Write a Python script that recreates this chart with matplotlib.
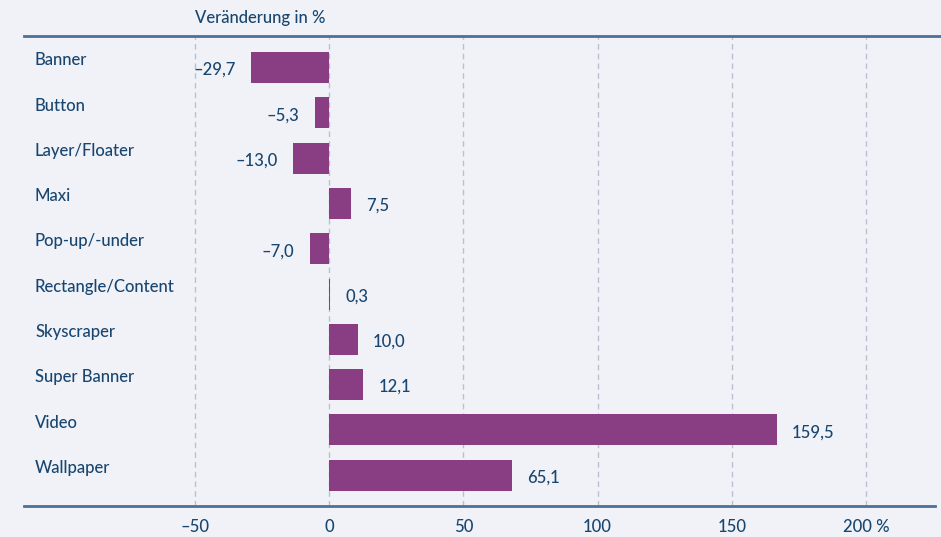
import matplotlib
matplotlib.use("Agg")
import matplotlib.pyplot as plt

categories = ["Banner", "Button", "Layer/Floater", "Maxi", "Pop-up/-under",
              "Rectangle/Content", "Skyscraper", "Super Banner", "Video", "Wallpaper"]
# bar lengths as drawn in the picture
bar_values = [-29.2, -5.3, -13.5, 8.1, -7.2, 0.4, 10.7, 12.6, 166.8, 68.1]
# printed labels
value_labels = ["–29,7", "–5,3", "–13,0", "7,5", "–7,0", "0,3", "10,0", "12,1", "159,5", "65,1"]
xticks = [-50, 0, 50, 100, 150, 200]
xtick_labels = ["–50", "0", "50", "100", "150", "200 %"]
title = "Veränderung in %"

BG = "#f1f2f7"
BAR = "#893d82"
TXT = "#184670"
LINE = "#4d7097"
GRID = "#b9c0d0"
FS = 12
FW = 'medium'

plt.rcParams['font.family'] = ['Lato', 'DejaVu Sans']

W, H = 941, 537
fig = plt.figure(figsize=(W / 100, H / 100), dpi=100, facecolor=BG)
ax = fig.add_axes([24 / W, 1 - 506 / H, (941 - 24) / W, (506 - 36) / H])
ax.set_facecolor(BG)

ppu = 2.684
zero_px = 329.2
ax.set_xlim((24 - zero_px) / ppu, (941 - zero_px) / ppu)
row_h = 45.3
c0 = 67.5
ax.set_ylim((506 - c0) / row_h, (36 - c0) / row_h)

rows = list(range(len(categories)))
ax.barh(rows, bar_values, height=31 / row_h, color=BAR, zorder=3)

for s in ax.spines.values():
    s.set_visible(False)

for t in xticks:
    ax.axvline(t, color=GRID, lw=1, ls=(0, (4, 3)), zorder=1)

ax.axhline((36 - c0) / row_h, xmin=0, xmax=1, color=LINE, lw=2, zorder=4, clip_on=False)
ax.axhline((506 - c0) / row_h, xmin=0, xmax=(935 - 24) / (941 - 24), color=LINE, lw=2, zorder=4, clip_on=False)

ax.set_xticks(xticks)
ax.set_xticklabels(xtick_labels, color=TXT, fontsize=FS, fontweight=FW)
ax.tick_params(axis='x', length=0, pad=9)
ax.set_yticks([])

yt = ax.get_yaxis_transform()
for r, cat in zip(rows, categories):
    ax.annotate(cat, xy=((35 - 24) / (941 - 24), r), xycoords=yt,
                xytext=(0, 5.2), textcoords='offset points',
                ha='left', va='center', color=TXT, fontsize=FS, fontweight=FW)

for r, v, lab in zip(rows, bar_values, value_labels):
    if v < 0:
        ax.annotate(lab, xy=(v, r), xytext=(-11, -1.8), textcoords='offset points',
                    ha='right', va='center', color=TXT, fontsize=FS, fontweight=FW)
    else:
        ax.annotate(lab, xy=(v, r), xytext=(11, -1.8), textcoords='offset points',
                    ha='left', va='center', color=TXT, fontsize=FS, fontweight=FW)

fig.text(195 / W, 1 - 18 / H, title, ha='left', va='center', color=TXT, fontsize=FS, fontweight=FW)

fig.savefig("out.png", dpi=100, facecolor=BG)
